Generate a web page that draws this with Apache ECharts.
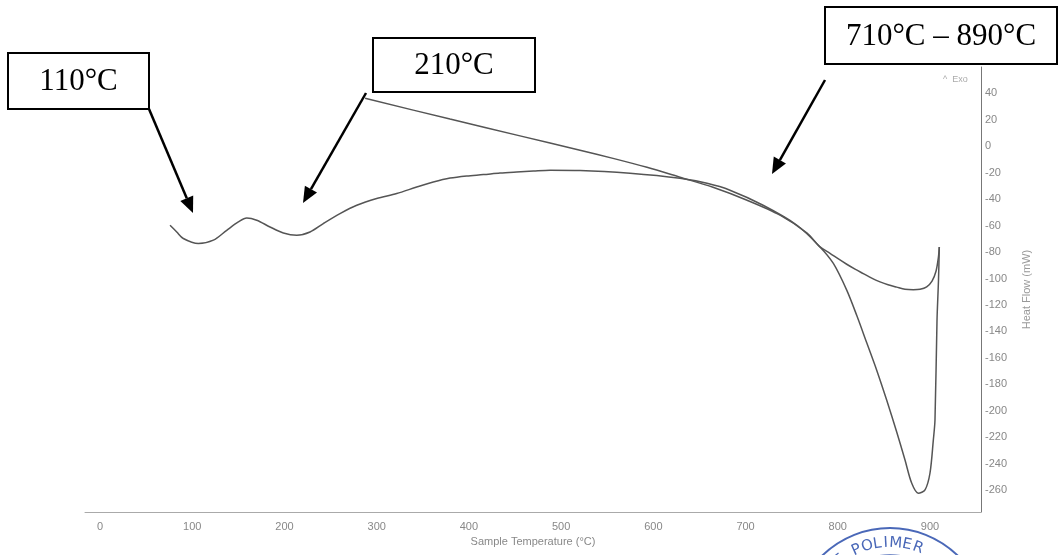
<!DOCTYPE html>
<html>
<head>
<meta charset="utf-8">
<title>DSC</title>
<script src="https://cdn.jsdelivr.net/npm/echarts@6/dist/echarts.min.js"></script>
<style>
    html,body{margin:0;padding:0;background:#fff;}
    #main{width:1059px;height:555px;}
</style>
</head>
<body>
<div id="main"></div>
<script>
// 升温曲线 温度(°C)
var heatT = [75.9, 83.2, 90.3, 106.6, 122.9, 137.4, 150.0, 159.1, 169.9, 184.3, 198.8, 213.3, 227.7, 242.1,
    260.2, 278.4, 300.0, 321.7, 343.4, 361.4, 379.6, 397.6, 415.6, 433.7, 451.8, 469.9, 488.0, 520.5,
    574.7, 628.9, 658.2, 683.1, 719.0, 755.8, 780.7, 795.2, 809.7, 820.6, 831.4, 842.2, 853.0, 863.9,
    872.9, 880.2, 887.3, 894.6, 900.0, 903.6, 905.4, 907.6, 909.2, 910.1];
// 升温曲线 热流(mW)
var heatF = [-59.7, -64.8, -69.7, -73.5, -71.0, -63.5, -57.2, -54.2, -55.9, -61.0, -65.5, -67.2, -64.8, -58.4,
    -50.9, -44.6, -39.5, -35.7, -30.8, -27.0, -24.0, -22.4, -21.4, -20.2, -19.4, -18.7, -18.1, -18.3,
    -20.4, -24.2, -28.0, -33.2, -44.6, -59.7, -76.1, -88.6, -108.8, -128.0, -148.6, -169.3, -191.9, -216.1,
    -237.3, -254.9, -262.4, -259.9, -247.1, -222.2, -207.0, -131.5, -101.3, -76.1];
// 降温曲线
var coolT = [910.1, 909.0, 906.5, 902.2, 896.4, 889.2, 881.9, 872.9, 863.9, 854.5, 845.8, 836.8, 827.7,
    818.7, 809.7, 800.3, 791.6, 780.7, 766.7, 737.4, 701.6, 664.7, 628.9, 593.1, 556.3, 520.5, 455.4,
    379.5, 287.4];
var coolF = [-76.1, -84.6, -94.5, -102.0, -106.3, -108.1, -108.4, -108.1, -106.5, -104.7, -102.5, -99.7, -96.3,
    -92.9, -89.2, -85.0, -80.9, -76.1, -65.7, -52.1, -40.8, -31.0, -23.4, -15.9, -9.1, -3.0, 7.9,
    20.6, 36.3];

// 标注
var notes = ['110°C', '210°C', '710°C – 890°C'];
var stampText = ['E', 'P', 'O', 'L', 'I', 'M', 'E', 'R'];
var stampAng = [-38, -24, -16, -9, -3, 4, 12, 20];

var heatData = heatT.map(function (t, i) { return [t, heatF[i]]; });
var coolData = coolT.map(function (t, i) { return [t, coolF[i]]; });

//箭头
var arrow = function (x1, y1, x2, y2) {
    var a = Math.atan2(y2 - y1, x2 - x1), L = 16, W = 7;
    var bx = x2 - L * Math.cos(a), by = y2 - L * Math.sin(a);
    return [
        {type: 'line', z: 100, shape: {x1: x1, y1: y1, x2: bx, y2: by}, style: {stroke: '#000', lineWidth: 2.5}},
        {type: 'polygon', z: 100, shape: {points: [[x2, y2], [bx + W * Math.sin(a), by - W * Math.cos(a)], [bx - W * Math.sin(a), by + W * Math.cos(a)]]},
            style: {fill: '#000'}}
    ];
};
var box = function (x, y, w, h, txt) {
    return [
        {type: 'rect', z: 100, shape: {x: x, y: y, width: w, height: h}, style: {fill: '#fff', stroke: '#000', lineWidth: 2}},
        {type: 'text', z: 101, style: {text: txt, x: x + w / 2, y: y + h / 2 + 1, align: 'center', verticalAlign: 'middle',
            font: '31px "Liberation Serif"', fill: '#000'}}
    ];
};

var graphics = [];
graphics = graphics.concat(box(8, 53, 141, 56, notes[0]));
graphics = graphics.concat(box(373, 38, 162, 54, notes[1]));
graphics = graphics.concat(box(825, 7, 232, 57, notes[2]));
graphics = graphics.concat(arrow(149, 109, 193, 213));
graphics = graphics.concat(arrow(366, 93, 303, 203));
graphics = graphics.concat(arrow(825, 80, 772, 174));
graphics.push({type: 'text', z: 50, style: {text: '^  Exo', x: 943, y: 80, font: '9px "Liberation Sans"', fill: '#aaa', verticalAlign: 'middle'}});
//印章
graphics.push({type: 'circle', z: 90, shape: {cx: 890, cy: 625, r: 97}, style: {fill: 'none', stroke: '#4a68b8', lineWidth: 2}});
graphics.push({type: 'circle', z: 90, shape: {cx: 890, cy: 625, r: 70}, style: {fill: 'none', stroke: '#4a68b8', lineWidth: 1.5}});
stampText.forEach(function (c, i) {
    var th = stampAng[i] * Math.PI / 180;
    graphics.push({type: 'text', z: 90, x: 890 + 82 * Math.sin(th), y: 625 - 82 * Math.cos(th), rotation: -th,
        style: {text: c, x: 0, y: 0, align: 'center', verticalAlign: 'middle', font: '15px "DejaVu Sans"', fill: '#4a68b8'}});
});

var myChart = echarts.init(document.getElementById('main'));
var option = {
    backgroundColor: '#fff',
    animation: false,
    grid: {left: 85, right: 78, top: 67, bottom: 43, containLabel: false, outerBoundsMode: 'none'},
    xAxis: {
        type: 'value',
        min: -16.3,
        max: 955.3,
        splitNumber: 10,
        name: 'Sample Temperature (°C)',
        nameLocation: 'middle',
        nameGap: 21,
        nameTextStyle: {color: '#888', fontSize: 11, fontFamily: 'Liberation Sans'},
        axisLine: {show: true, onZero: false, lineStyle: {color: '#aaa', width: 1}},
        axisTick: {show: false},
        splitLine: {show: false},
        axisLabel: {color: '#888', fontSize: 11, fontFamily: 'Liberation Sans', margin: 9, showMinLabel: false, showMaxLabel: false}
    },
    yAxis: {
        type: 'value',
        position: 'right',
        min: -276.6,
        max: 60,
        splitNumber: 17,
        name: 'Heat Flow (mW)',
        nameLocation: 'middle',
        nameRotate: 90,
        nameGap: 40,
        nameTextStyle: {color: '#999', fontSize: 11, fontFamily: 'Liberation Sans'},
        axisLine: {show: true, onZero: false, lineStyle: {color: '#777', width: 1}},
        axisTick: {show: false},
        splitLine: {show: false},
        axisLabel: {color: '#888', fontSize: 11, fontFamily: 'Liberation Sans', margin: 4, showMinLabel: false, showMaxLabel: false}
    },
    series: [
        {
            name: 'heating',
            type: 'line',
            data: heatData,
            smooth: 0.3,
            showSymbol: false,
            lineStyle: {color: '#555', width: 1.5}
        },
        {
            name: 'cooling',
            type: 'line',
            data: coolData,
            smooth: 0.3,
            showSymbol: false,
            lineStyle: {color: '#555', width: 1.5}
        }
    ],
    graphic: graphics
};
myChart.setOption(option);
</script>
</body>
</html>
